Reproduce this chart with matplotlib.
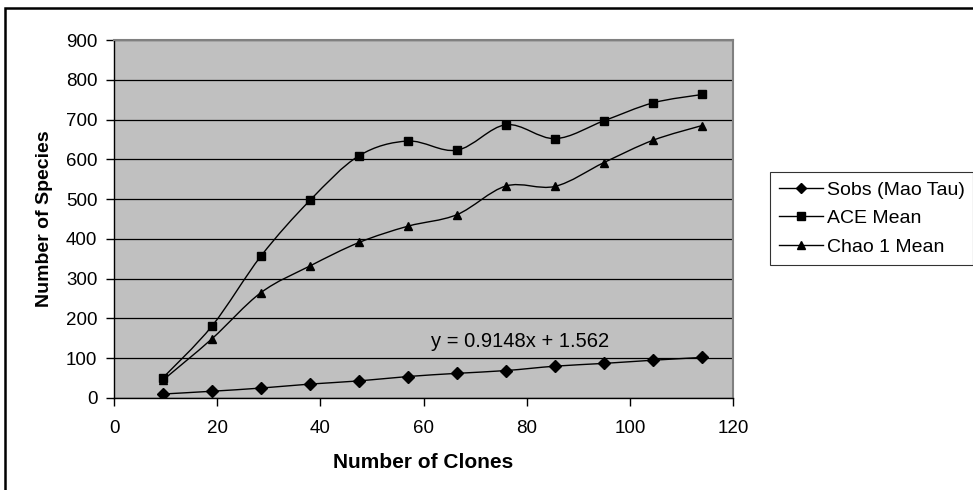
import numpy as np
import matplotlib
matplotlib.use('Agg')
import matplotlib.pyplot as plt
from matplotlib.path import Path
from matplotlib.patches import PathPatch, Rectangle
from matplotlib.lines import Line2D

plt.rcParams['font.family'] = ['Liberation Sans', 'DejaVu Sans']

clones = [9.5, 19, 28.5, 38, 47.5, 57, 66.5, 76, 85.5, 95, 104.5, 114]
sobs = [10, 17, 25, 35, 43, 54, 62, 69, 80, 87, 95, 102]
ace = [51, 181, 357, 497, 609, 646, 623, 687, 652, 697, 742, 763]
chao = [45, 149, 265, 332, 391, 432, 461, 533, 532, 592, 648, 685]
labels = ['Sobs (Mao Tau)', 'ACE Mean', 'Chao 1 Mean']
markers = ['D', 's', '^']
trend_text = 'y = 0.9148x + 1.562'


def smooth_path(x, y):
    # excel-like smoothed line: catmull-rom turned into cubic bezier
    pts = np.column_stack([x, y]).astype(float)
    ext = np.vstack([pts[0], pts, pts[-1]])
    verts = [pts[0]]
    codes = [Path.MOVETO]
    for i in range(1, len(ext) - 2):
        p0, p1, p2, p3 = ext[i - 1], ext[i], ext[i + 1], ext[i + 2]
        verts += [p1 + (p2 - p0) / 6, p2 - (p3 - p1) / 6, p2]
        codes += [Path.CURVE4] * 3
    return Path(verts, codes)


fs = 13.5

fig = plt.figure(figsize=(9.73, 4.9), dpi=100)
ax = fig.add_axes([114 / 973, 1 - 398 / 490, 619 / 973, 358 / 490])
ax.set_facecolor('#c0c0c0')

for ys, m in zip([sobs, ace, chao], markers):
    ax.add_patch(PathPatch(smooth_path(clones, ys), facecolor='none',
                           edgecolor='black', lw=1.0, zorder=3))
    ms = 6.2 if m != 'D' else 5.8
    ax.plot(clones, ys, linestyle='none', marker=m, color='black', ms=ms, zorder=4)

ax.set_xlim(0, 120)
ax.set_ylim(0, 900)
ax.set_xticks(range(0, 121, 20))
ax.set_yticks(range(0, 901, 100))
ax.yaxis.grid(True, color='black', lw=0.9)
ax.set_axisbelow(True)
ax.tick_params(labelsize=fs, direction='out', length=6, width=1, colors='black')
ax.tick_params(axis='x', pad=10)
ax.tick_params(axis='y', pad=6)

for s in ['top', 'right']:
    ax.spines[s].set_color('#808080')
    ax.spines[s].set_linewidth(1.5)
for s in ['left', 'bottom']:
    ax.spines[s].set_color('black')
    ax.spines[s].set_linewidth(1.0)

ax.set_xlabel('Number of Clones', fontsize=15, fontweight='bold', labelpad=11)
ax.set_ylabel('Number of Species', fontsize=14, fontweight='bold', labelpad=9)

ax.text(78.7, 143, trend_text, fontsize=14.5, ha='center', va='center')

handles = [Line2D([], [], color='black', lw=1, marker=m, ms=5.5 if m != 'D' else 5)
           for m in markers]
fig.legend(handles, labels, loc='upper left', bbox_to_anchor=(770 / 973, 1 - 172 / 490),
           fontsize=14, frameon=True, fancybox=False, edgecolor='black',
           handlelength=2.25, handletextpad=0.2, labelspacing=0.57,
           borderpad=0.46, borderaxespad=0)
leg = fig.legends[0]
leg.get_frame().set_linewidth(0.8)

fig.patches.append(Rectangle((5 / 973, -0.1), 1.2, 1.1 - 8 / 490, transform=fig.transFigure,
                             fill=False, edgecolor='black', lw=1.8))

fig.savefig('out.png', dpi=100)
